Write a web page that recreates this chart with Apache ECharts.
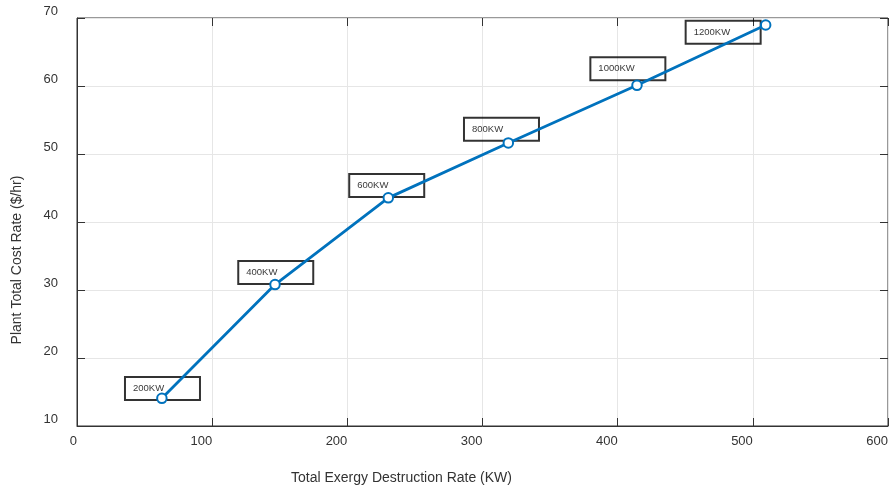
<!DOCTYPE html>
<html>
<head>
<meta charset="utf-8">
<style>
  html, body { margin: 0; padding: 0; background: #ffffff; }
  #chart { width: 892px; height: 488px; }
</style>
<script src="https://cdn.jsdelivr.net/npm/echarts@6/dist/echarts.min.js"></script>
</head>
<body>
<div id="chart"></div>
<script>
// Plant capacity cases and their operating points
const capacities = ['200KW', '400KW', '600KW', '800KW', '1000KW', '1200KW'];
const exergyDestruction = [62.8, 146.5, 230.3, 319.1, 414.3, 509.5];   // KW
const totalCostRate = [14.07, 30.8, 43.55, 51.63, 60.1, 68.97];        // $/hr

// Annotation anchors (data units): left edge / vertical middle of each text box
const noteX = [35.5, 119.3, 201.4, 286.3, 379.8, 450.3];
const noteY = [15.5, 32.56, 45.37, 53.64, 62.53, 67.92];

// Axis ranges
const xMin = 0, xMax = 600, xStep = 100;
const yMin = 10, yMax = 70, yStep = 10;

const axisColor = '#333333';
const gridColor = '#e6e6e6';
const lineColor = '#0072BD';
const fontFamily = '"Liberation Sans", Arial, Helvetica, sans-serif';

const chart = echarts.init(document.getElementById('chart'), null, { renderer: 'canvas' });

const curve = exergyDestruction.map((x, i) => [x, totalCostRate[i]]);
const notes = noteX.map((x, i) => ({ value: [x, noteY[i]], name: capacities[i] }));

// Tick-only axes on the top and right edges of the box
const boxAxis = (pos, extra) => Object.assign({
  type: 'value',
  position: pos,
  axisLine: { show: false, onZero: false },
  axisTick: { show: true, inside: true, length: 8, lineStyle: { color: axisColor, width: 1 } },
  axisLabel: { show: false },
  splitLine: { show: false }
}, extra);

chart.setOption({
  animation: false,
  backgroundColor: '#ffffff',
  grid: {
    left: 77, top: 18, right: 4, bottom: 62,
    show: true,
    borderColor: axisColor,
    borderWidth: 1,
    containLabel: false,
    outerBoundsMode: 'none'
  },
  xAxis: [
    {
      type: 'value',
      min: xMin, max: xMax, interval: xStep,
      position: 'bottom',
      name: 'Total Exergy Destruction Rate (KW)',
      nameLocation: 'middle',
      nameGap: 45,
      nameTextStyle: { color: axisColor, fontSize: 14, fontFamily: fontFamily, padding: [0, 162, 0, 0] },
      axisLine: { show: true, onZero: false, lineStyle: { color: axisColor, width: 1 } },
      axisTick: { show: true, inside: true, length: 8, lineStyle: { color: axisColor, width: 1 } },
      axisLabel: { color: axisColor, fontSize: 13, fontFamily: fontFamily, margin: 9, align: 'right' },
      splitLine: { show: true, lineStyle: { color: gridColor, width: 1 } }
    },
    boxAxis('top', { min: xMin, max: xMax, interval: xStep })
  ],
  yAxis: [
    {
      type: 'value',
      min: yMin, max: yMax, interval: yStep,
      position: 'left',
      name: 'Plant Total Cost Rate ($/hr)',
      nameLocation: 'middle',
      nameGap: 53,
      nameTextStyle: { color: axisColor, fontSize: 14, fontFamily: fontFamily, padding: [0, 76, 0, 0] },
      axisLine: { show: true, onZero: false, lineStyle: { color: axisColor, width: 1 } },
      axisTick: { show: true, inside: true, length: 8, lineStyle: { color: axisColor, width: 1 } },
      axisLabel: { color: axisColor, fontSize: 13, fontFamily: fontFamily, margin: 19, verticalAlign: 'bottom' },
      splitLine: { show: true, lineStyle: { color: gridColor, width: 1 } }
    },
    boxAxis('right', { min: yMin, max: yMax, interval: yStep })
  ],
  series: [
    {
      type: 'scatter',
      name: 'notes',
      data: notes,
      symbolSize: 0,
      silent: true,
      z: 1,
      label: {
        show: true,
        position: 'right',
        distance: 0,
        formatter: p => p.name,
        color: '#000000',
        fontSize: 9.5,
        fontFamily: fontFamily,
        width: 67,
        height: 23,
        lineHeight: 21,
        padding: [0, 0, 0, 8],
        borderColor: '#000000',
        borderWidth: 1,
        backgroundColor: 'transparent'
      }
    },
    {
      type: 'line',
      name: 'cost',
      data: curve,
      z: 3,
      symbol: 'emptyCircle',
      symbolSize: 9.5,
      showAllSymbol: true,
      lineStyle: { color: lineColor, width: 2.8 },
      itemStyle: { color: lineColor, borderColor: lineColor, borderWidth: 2.6 }
    }
  ]
});
</script>
</body>
</html>
